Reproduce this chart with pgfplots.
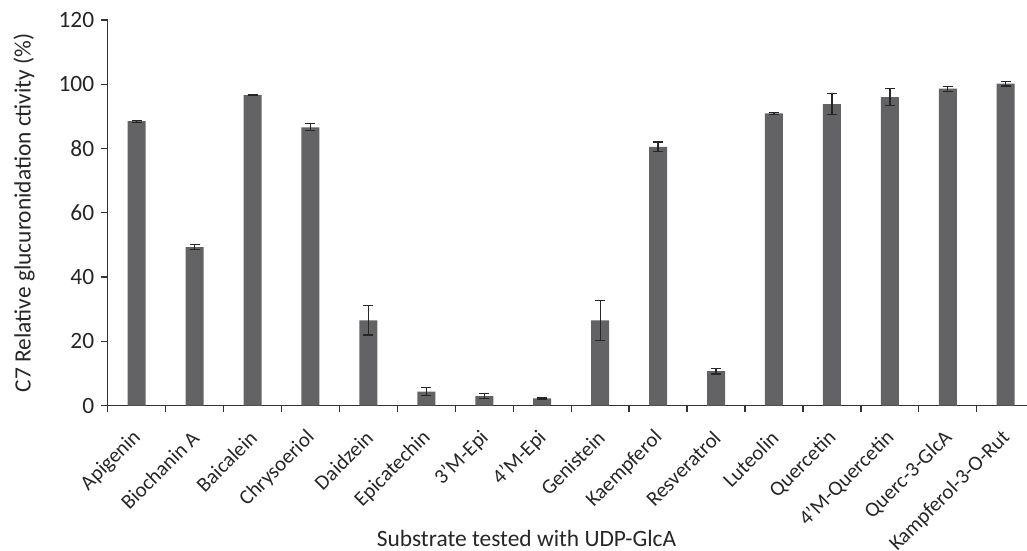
\documentclass[border=0pt]{standalone}
\usepackage{pgfplots}
\pgfplotsset{compat=1.18}
\usepackage{fontspec}
\setmainfont{Carlito}
\definecolor{barc}{RGB}{99,99,101}
\definecolor{axc}{RGB}{50,50,50}
\definecolor{txt}{RGB}{38,38,38}
\begin{document}
\begin{tikzpicture}
\useasboundingbox (-107.7bp,-145.5bp) rectangle (919.3bp,405.5bp);
\begin{axis}[
  at={(0,0)}, anchor=south west,
  scale only axis, width=927bp, height=385.5bp,
  xmin=-0.5, xmax=15.5, ymin=0, ymax=120,
  axis x line*=bottom, axis y line*=left,
  axis line style={color=axc, line width=1.3bp},
  tick align=outside,
  ytick={0,20,...,120},
  major tick length=7bp, minor tick length=6bp,
  tick style={color=axc, line width=1.3bp},
  xtick={0,...,15},
  major x tick style={draw=none},
  minor xtick={-0.5,0.5,...,15.5},
  xticklabels={Apigenin,Biochanin A,Baicalein,Chrysoeriol,Daidzein,Epicatechin,3'M-Epi,4'M-Epi,Genistein,Kaempferol,Resveratrol,Luteolin,Quercetin,4'M-Quercetin,Querc-3-GlcA,Kampferol-3-O-Rut},
  x tick label style={yshift=-22bp, xshift=1bp, rotate=45, anchor=east, inner sep=0pt, font=\fontsize{21}{21}\selectfont, color=txt},
  y tick label style={font=\fontsize{23.5}{23.5}\selectfont, color=txt, xshift=-3bp},
  /pgf/number format/assume math mode=true,
  xlabel={Substrate tested with UDP-GlcA},
  ylabel={C7 Relative glucuronidation ctivity (\%)},
  xlabel style={at={(axis description cs:0.4518,-0.366)}, anchor=base, inner sep=0pt, font=\fontsize{23.5}{23.5}\selectfont, color=txt},
  ylabel style={at={(axis description cs:-0.0903,0.5)}, anchor=center, font=\fontsize{23.5}{23.5}\selectfont, color=txt},
]
\addplot[ybar, bar width=18bp, fill=barc, draw=none,
  error bars/.cd, y dir=both, y explicit,
  error bar style={color=txt, line width=1.3bp},
  error mark options={rotate=90, mark size=5bp, line width=1.3bp, color=txt}]
table[x=x, y=y, y error=e] {
x y e
0 88.5 0.3
1 49.3 0.8
2 96.6 0.2
3 86.6 1.1
4 26.5 4.6
5 4.3 1.2
6 2.9 0.8
7 2.2 0.2
8 26.5 6.2
9 80.5 1.5
10 10.7 0.85
11 90.9 0.35
12 93.8 3.3
13 96.0 2.6
14 98.6 0.75
15 100.2 0.7
};
\end{axis}
\end{tikzpicture}
\end{document}
